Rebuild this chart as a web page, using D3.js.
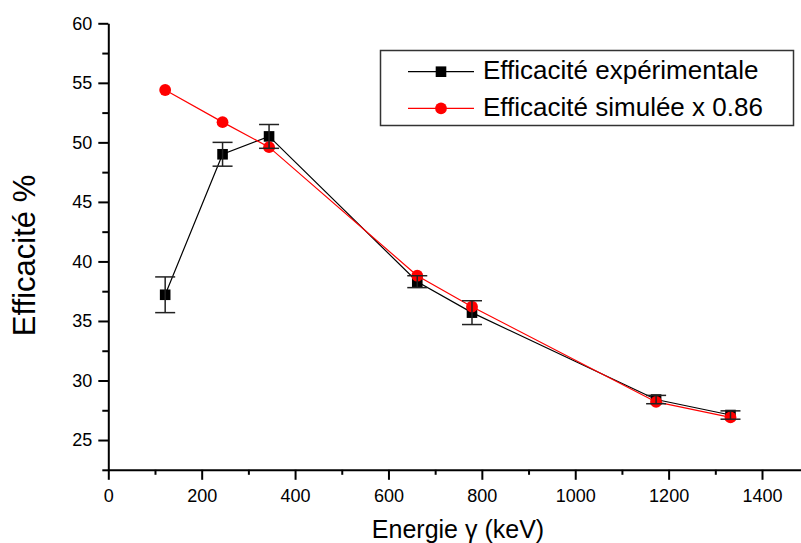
<!DOCTYPE html>
<html>
<head>
<meta charset="utf-8">
<script src="https://cdn.jsdelivr.net/npm/d3@7"></script>
<style>
  body { margin: 0; background: #fff; }
  svg { display: block; font-family: "Liberation Sans", Arial, sans-serif; }
  .axis path, .axis line { stroke: #000; stroke-width: 2px; }
  .axis text { font-size: 18px; fill: #000; font-family: "Liberation Sans", Arial, sans-serif; }
</style>
</head>
<body>
<div id="chart"></div>
<script>
// gamma energies (keV)
const energies = [121.8, 244.7, 344.3, 661.7, 778.9, 1173.2, 1332.5];
// measured efficiency (%) and its error
const effExp = [37.2, 49.0, 50.5, 38.3, 35.7, 28.4, 27.1];
const errExp = [1.5, 1.0, 1.0, 0.5, 1.0, 0.35, 0.35];
// simulated efficiency x 0.86
const effSim = [54.4, 51.7, 49.6, 38.8, 36.2, 28.2, 26.9];

const xMajor = [0, 200, 400, 600, 800, 1000, 1200, 1400];
const yMajor = [25, 30, 35, 40, 45, 50, 55, 60];
const seriesNames = ["Efficacité expérimentale", "Efficacité simulée x 0.86"];

const width = 801, height = 543;

const svg = d3
  .select("#chart")
  .append("svg")
  .attr("width", width)
  .attr("height", height);

const x = d3.scaleLinear().domain([0, 1500]).range([108.3, 808.7]);
const y = d3.scaleLinear().domain([22.5, 60]).range([469.8, 23.3]);

// minor ticks first
svg
  .append("g")
  .attr("class", "axis")
  .attr("transform", `translate(0,${y(22.5)})`)
  .call(
    d3.axisBottom(x)
      .tickValues(d3.range(100, 1500, 200))
      .tickSize(5)
      .tickFormat("")
  )
  .select(".domain")
  .remove();

svg
  .append("g")
  .attr("class", "axis")
  .attr("transform", `translate(${x(0)},0)`)
  .call(
    d3.axisLeft(y)
      .tickValues(d3.range(22.5, 60, 5))
      .tickSize(6)
      .tickFormat("")
  )
  .select(".domain")
  .remove();

// major ticks + axis lines
svg
  .append("g")
  .attr("class", "axis")
  .attr("transform", `translate(0,${y(22.5)})`)
  .call(
    d3.axisBottom(x)
      .tickValues(xMajor)
      .tickFormat(d3.format("d"))
      .tickSizeInner(10)
      .tickSizeOuter(0)
      .tickPadding(9)
  );

svg
  .append("g")
  .attr("class", "axis")
  .attr("transform", `translate(${x(0)},0)`)
  .call(
    d3.axisLeft(y)
      .tickValues(yMajor)
      .tickFormat(d3.format("d"))
      .tickSizeInner(10)
      .tickSizeOuter(0)
      .tickPadding(6)
  );

// axis titles
svg
  .append("text")
  .attr("transform", "rotate(-90)")
  .attr("x", -255.5)
  .attr("y", 35)
  .attr("text-anchor", "middle")
  .style("font-size", "31px")
  .text("Efficacité %");

svg
  .append("text")
  .attr("x", 458)
  .attr("y", 538)
  .attr("text-anchor", "middle")
  .style("font-size", "25px")
  .text("Energie γ (keV)");

const expData = energies.map((e, i) => ({ e: e, v: effExp[i], err: errExp[i] }));
const simData = energies.map((e, i) => ({ e: e, v: effSim[i] }));

const line = d3
  .line()
  .x((d) => x(d.e))
  .y((d) => y(d.v));

// experimental series
svg
  .append("path")
  .datum(expData)
  .attr("fill", "none")
  .attr("stroke", "#000")
  .attr("stroke-width", 1.2)
  .attr("d", line);

svg
  .selectAll(".sq")
  .data(expData)
  .enter()
  .append("rect")
  .attr("class", "sq")
  .attr("x", (d) => x(d.e) - 5.3)
  .attr("y", (d) => y(d.v) - 5.3)
  .attr("width", 10.6)
  .attr("height", 10.6)
  .attr("fill", "#000");

// simulated series
svg
  .append("path")
  .datum(simData)
  .attr("fill", "none")
  .attr("stroke", "#ff0000")
  .attr("stroke-width", 1.2)
  .attr("d", line);

svg
  .selectAll(".dot")
  .data(simData)
  .enter()
  .append("circle")
  .attr("class", "dot")
  .attr("cx", (d) => x(d.e))
  .attr("cy", (d) => y(d.v))
  .attr("r", 5.9)
  .attr("fill", "#ff0000");

// error bars on top
const eb = svg
  .selectAll(".err")
  .data(expData)
  .enter()
  .append("g")
  .attr("class", "err")
  .attr("stroke", "#222")
  .attr("stroke-width", 1.5);

eb.append("line")
  .attr("x1", (d) => x(d.e))
  .attr("x2", (d) => x(d.e))
  .attr("y1", (d) => y(d.v + d.err))
  .attr("y2", (d) => y(d.v - d.err));
eb.append("line")
  .attr("x1", (d) => x(d.e) - 10)
  .attr("x2", (d) => x(d.e) + 10)
  .attr("y1", (d) => y(d.v + d.err))
  .attr("y2", (d) => y(d.v + d.err));
eb.append("line")
  .attr("x1", (d) => x(d.e) - 10)
  .attr("x2", (d) => x(d.e) + 10)
  .attr("y1", (d) => y(d.v - d.err))
  .attr("y2", (d) => y(d.v - d.err));

// legend
const legend = svg.append("g");
legend
  .append("rect")
  .attr("x", 380.5)
  .attr("y", 50.5)
  .attr("width", 413)
  .attr("height", 75)
  .attr("fill", "#fff")
  .attr("stroke", "#333")
  .attr("stroke-width", 1.5);

const rowY = [71.7, 108.3];
const colors = ["#000", "#ff0000"];
seriesNames.forEach(function (name, i) {
  legend
    .append("line")
    .attr("x1", 408)
    .attr("x2", 474)
    .attr("y1", rowY[i])
    .attr("y2", rowY[i])
    .attr("stroke", colors[i])
    .attr("stroke-width", 1.2);
  if (i === 0) {
    legend
      .append("rect")
      .attr("x", 441 - 5.3)
      .attr("y", rowY[i] - 5.3)
      .attr("width", 10.6)
      .attr("height", 10.6)
      .attr("fill", "#000");
  } else {
    legend
      .append("circle")
      .attr("cx", 441)
      .attr("cy", rowY[i])
      .attr("r", 5.9)
      .attr("fill", "#ff0000");
  }
  legend
    .append("text")
    .attr("x", 483)
    .attr("y", rowY[i] + 7.5)
    .style("font-size", "26px")
    .text(name);
});
</script>
</body>
</html>
